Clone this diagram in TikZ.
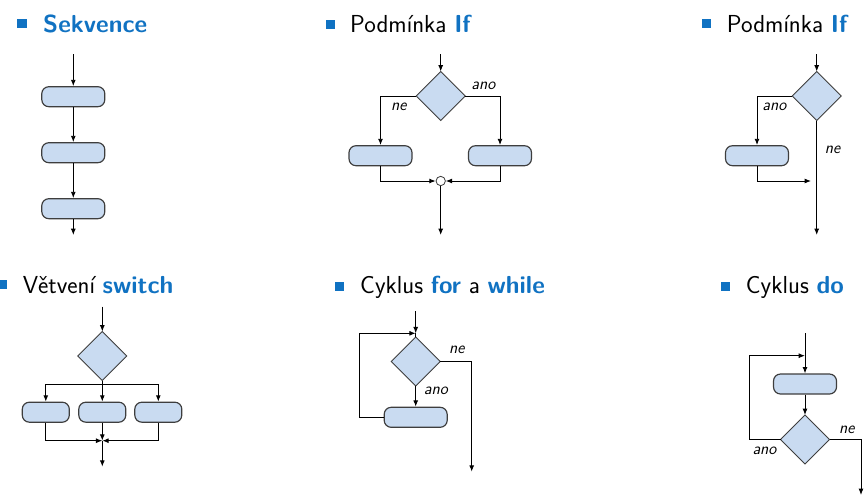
\documentclass[tikz,border=0pt]{standalone}
\usetikzlibrary{arrows.meta,shapes.geometric}
\definecolor{modra}{RGB}{16,114,194}
\definecolor{vypln}{RGB}{201,219,241}
\definecolor{okraj}{RGB}{62,62,62}
\begin{document}
\begin{tikzpicture}[x=0.03cm, y=-0.03cm, font=\sffamily,
  blok/.style={draw=okraj,fill=vypln,rounded corners=0.21cm,minimum width=1.89cm,minimum height=0.6cm,line width=1pt,inner sep=0},
  podm/.style={diamond,draw=okraj,fill=vypln,minimum width=1.47cm,minimum height=1.47cm,inner sep=0,outer sep=0,line width=0.8pt},
  tok/.style={-{Latex[length=5.4pt,width=4.2pt]},line width=0.8pt},
  cara/.style={line width=0.8pt},
  popis/.style={font=\sffamily\itshape\fontsize{14}{16}\selectfont,inner sep=0},
  nadpis/.style={font=\sffamily\fontsize{21}{25}\selectfont,anchor=base west,inner sep=0},
  odr/.style={fill=modra,minimum size=0.27cm,inner sep=0}]
\useasboundingbox (0,0) rectangle (866,502);
% Sekvence
\node[odr] (o1) at (22,23.5) {};
\node[nadpis] (t1) at (43,32) {\color{modra}\bfseries Sekvence};
\coordinate (s0) at (73.3,54);
\node[blok] (s1) at (73.3,96.7) {};
\node[blok] (s2) at (73.3,152.7) {};
\node[blok] (s3) at (73.3,208.7) {};
\coordinate (s4) at (73.3,235);
\draw[tok] (s0) -- (s1); \draw[tok] (s1) -- (s2); \draw[tok] (s2) -- (s3); \draw[tok] (s3) -- (s4);
% Podminka If
\node[odr] (o2) at (330.3,24.5) {};
\node[nadpis] (t2) at (350,32) {Podmínka \textcolor{modra}{\bfseries If}};
\coordinate (i0) at (440.7,54);
\node[podm] (id) at (440.7,96) {};
\node[blok] (il) at (380.5,155.7) {};
\node[blok] (ir) at (500,155.7) {};
\node[circle,draw=okraj,fill=white,minimum size=0.28cm,inner sep=0,line width=0.7pt] (ispoj) at (440.7,181) {};
\coordinate (i1) at (440.7,235);
\draw[tok] (i0) -- (id.north);
\draw[tok] (id.west) -| (il.north); \draw[tok] (id.east) -| (ir.north);
\draw[tok] (il.south) |- (ispoj.west); \draw[tok] (ir.south) |- (ispoj.east);
\draw[tok] (ispoj.south) -- (i1);
\node[popis] (ine) at (398.7,106.7) {ne};
\node[popis] (iano) at (483.3,86) {ano};
% Podminka If bez else
\node[odr] (o3) at (706.3,23.5) {};
\node[nadpis] (t3) at (726.7,32) {Podmínka \textcolor{modra}{\bfseries If}};
\coordinate (j0) at (816.7,54);
\node[podm] (jd) at (816.7,96) {};
\node[blok] (jb) at (757,155.7) {};
\coordinate (jk) at (811,181);
\coordinate (j1) at (816.7,235);
\draw[tok] (j0) -- (jd.north);
\draw[tok] (jd.west) -| (jb.north);
\draw[tok] (jb.south) |- (jk);
\draw[tok] (jd.south) -- (j1);
\node[popis] (jano) at (774.3,106.7) {ano};
\node[popis] (jne) at (832.5,150) {ne};
% Vetveni switch
\node[odr] (o4) at (2.3,284.7) {};
\node[nadpis] (t4) at (22.7,293.3) {Větvení \textcolor{modra}{\bfseries switch}};
\coordinate (w0) at (102.3,306.7);
\node[podm] (wd) at (102.3,356) {};
\coordinate (wr) at (102.3,384.3);
\node[blok,minimum width=1.41cm] (w1) at (45.8,412.2) {};
\node[blok,minimum width=1.41cm] (w2) at (102.3,412.2) {};
\node[blok,minimum width=1.41cm] (w3) at (158.3,412.2) {};
\coordinate (ws) at (102.3,440.7);
\coordinate (wk) at (102.3,466.7);
\draw[tok] (w0) -- (wd.north);
\draw[tok] (wd.south) -- (w2.north);
\draw[tok] (wr) -| (w1.north); \draw[tok] (wr) -| (w3.north);
\draw[tok] (w1.south) |- (ws); \draw[tok] (w3.south) |- (ws); \draw[tok] (w2.south) -- (ws);
\draw[tok] (ws) -- (wk);
% Cyklus for a while
\node[odr] (o5) at (339.7,286.3) {};
\node[nadpis] (t5) at (360,293.3) {Cyklus \textcolor{modra}{\bfseries for} a \textcolor{modra}{\bfseries while}};
\coordinate (f0) at (415.7,311);
\coordinate (fv) at (415.7,333.3);
\node[podm] (fd) at (415.7,361.5) {};
\node[blok] (fb) at (415.7,417.3) {};
\coordinate (fs) at (359.3,333.3);
\coordinate (f1) at (471.7,471.7);
\draw[tok] (f0) -- (fv);
\draw[cara] (fv) -- (fd.north);
\draw[tok] (fb.west) -| (fs) -- (fv);
\draw[tok] (fd.south) -- (fb.north);
\draw[tok] (fd.east) -| (f1);
\node[popis] (fne) at (456.7,350) {ne};
\node[popis] (fano) at (435.8,390.7) {ano};
% Cyklus do
\node[odr] (o6) at (725.3,286.3) {};
\node[nadpis] (t6) at (745.7,293.3) {Cyklus \textcolor{modra}{\bfseries do}};
\coordinate (d0) at (805,333.3);
\coordinate (dv) at (805,355.7);
\node[blok] (db) at (805,384) {};
\node[podm] (dd) at (805,439.5) {};
\coordinate (ds) at (749,355.7);
\coordinate (d1) at (861,495);
\draw[tok] (d0) -- (db.north);
\draw[tok] (db.south) -- (dd.north);
\draw[tok] (dd.west) -| (ds) -- (dv);
\draw[tok] (dd.east) -| (d1);
\node[popis] (dne) at (846.7,430) {ne};
\node[popis] (dano) at (764.5,451) {ano};
\end{tikzpicture}
\end{document}
